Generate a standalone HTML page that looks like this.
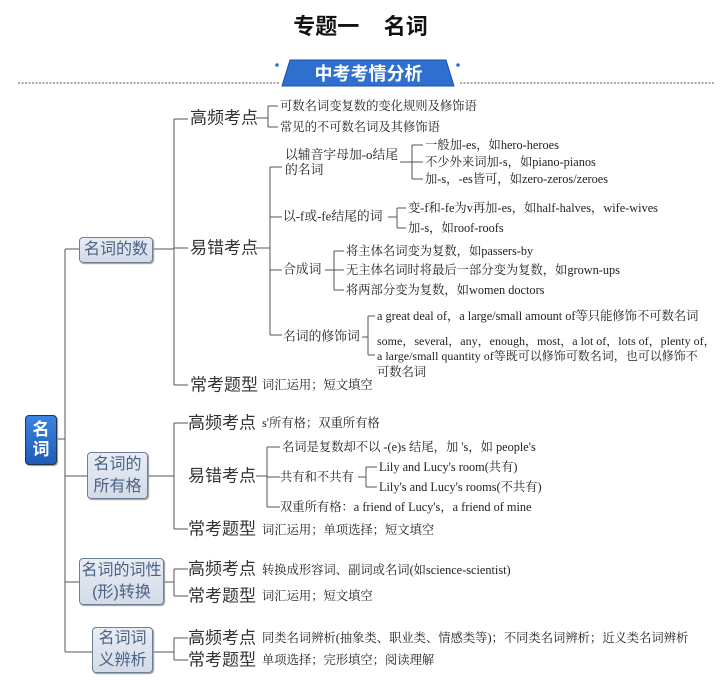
<!DOCTYPE html>
<html><head><meta charset="utf-8"><style>
body{margin:0;width:721px;height:681px;background:#fff;position:relative;overflow:hidden;font-family:"Liberation Serif","Noto Serif CJK SC",serif;color:#222}
.t{position:absolute;white-space:nowrap;transform:translateY(-50%);line-height:1}
.h{font-family:"Liberation Sans","Noto Sans CJK SC",sans-serif;font-size:17px;color:#333}
.s{font-size:12.3px}
.m{font-size:12.8px}
.box{position:absolute;background:linear-gradient(#e8edf4,#d3dbe7);border:1px solid #6f7f96;border-radius:4px;box-shadow:1px 1px 1px #999;font-family:"Liberation Sans","Noto Sans CJK SC",sans-serif;color:#4a6285;font-size:16px;display:flex;align-items:center;justify-content:center;text-align:center;line-height:1.35;box-sizing:border-box}
</style></head><body>
<div class="t" style="left:0;width:721px;text-align:center;top:27px;font-family:'Liberation Sans','Noto Sans CJK SC',sans-serif;font-weight:bold;font-size:22px;color:#111">专题一&nbsp;&nbsp;&nbsp;&nbsp;名词</div>
<svg width="721" height="681" style="position:absolute;left:0;top:0">
<line x1="18" y1="83" x2="280" y2="83" stroke="#555" stroke-dasharray="2,1.5"/>
<line x1="460" y1="83" x2="715" y2="83" stroke="#555" stroke-dasharray="2,1.5"/>
<polygon points="290,60 446,60 454,86 282,86" fill="#2e6fd0" stroke="#1d4fa0"/>
<circle cx="277" cy="65" r="1.8" fill="#2e6fd0"/><circle cx="458" cy="65" r="1.8" fill="#2e6fd0"/>
<g stroke="#555" fill="none" stroke-width="1">
<path d="M65 249V652M57 439H65M65 249H79M65 476H87M65 582H79M65 652H92"/>
<path d="M153 249H174M174 119V385M174 119H188M174 248H188M174 385H188"/>
<path d="M256 118H268M268 106V127M268 106H278M268 127H278"/>
<path d="M256 248H270M270 167V335M270 167H282M270 217H282M270 270H282M270 335H282"/>
<path d="M400 162H412M412 145V179M412 145H423M412 162H423M412 179H423"/>
<path d="M388 217H397M397 208V228M397 208H406M397 228H406"/>
<path d="M325 270H334M334 251V290M334 251H344M334 270H344M334 290H344"/>
<path d="M362 337H368M368 316V355M368 316H375M368 355H375"/>
<path d="M148 476H174M174 423V529M174 423H188M174 529H188M256 476H267M267 447V507M267 447H280M267 477H280M267 507H280"/>
<path d="M358 477H366M366 467V487M366 467H377M366 487H377"/>
<path d="M164 582H174M174 569V596M174 569H188M174 596H188"/>
<path d="M153 652H174M174 638V660M174 638H188M174 660H188"/>
</g></svg>
<div class="t" style="left:283px;width:171px;text-align:center;top:74px;font-family:'Liberation Sans','Noto Sans CJK SC',sans-serif;font-weight:bold;font-size:18px;color:#fff">中考考情分析</div>
<div class="box" style="left:25px;top:415px;width:32px;height:50px;background:linear-gradient(#3a83e0,#1f5cb8);color:#fff;font-weight:bold;font-size:17px;line-height:1.2;border-color:#234">名<br>词</div>
<div class="box" style="left:79px;top:237px;width:74px;height:26px">名词的数</div>
<div class="box" style="left:87px;top:452px;width:61px;height:47px">名词的<br>所有格</div>
<div class="box" style="left:79px;top:558px;width:85px;height:47px">名词的词性<br>(形)转换</div>
<div class="box" style="left:92px;top:627px;width:61px;height:46px">名词词<br>义辨析</div>

<div class="t h" style="left:190px;top:118px">高频考点</div>
<div class="t s" style="left:280px;top:106px">可数名词变复数的变化规则及修饰语</div>
<div class="t s" style="left:280px;top:127px">常见的不可数名词及其修饰语</div>
<div class="t h" style="left:190px;top:248px">易错考点</div>
<div class="t m" style="left:285px;top:163px;line-height:15px">以辅音字母加-o结尾<br>的名词</div>
<div class="t s" style="left:425px;top:145px">一般加-es，如hero-heroes</div>
<div class="t s" style="left:425px;top:162px">不少外来词加-s，如piano-pianos</div>
<div class="t s" style="left:425px;top:179px">加-s，-es皆可，如zero-zeros/zeroes</div>
<div class="t m" style="left:283px;top:217px">以-f或-fe结尾的词</div>
<div class="t s" style="left:408px;top:208px">变-f和-fe为v再加-es，如half-halves，wife-wives</div>
<div class="t s" style="left:408px;top:228px">加-s，如roof-roofs</div>
<div class="t m" style="left:283px;top:270px">合成词</div>
<div class="t s" style="left:346px;top:251px">将主体名词变为复数，如passers-by</div>
<div class="t s" style="left:346px;top:270px">无主体名词时将最后一部分变为复数，如grown-ups</div>
<div class="t s" style="left:346px;top:290px">将两部分变为复数，如women doctors</div>
<div class="t m" style="left:283px;top:337px">名词的修饰词</div>
<div class="t s" style="left:377px;top:316px">a great deal of，a large/small amount of等只能修饰不可数名词</div>
<div class="t s" style="left:377px;top:341px;font-size:12px">some，several，any，enough，most，a lot of，lots of，plenty of，</div>
<div class="t s" style="left:377px;top:356px;font-size:12px">a large/small quantity of等既可以修饰可数名词，也可以修饰不</div>
<div class="t s" style="left:377px;top:372px">可数名词</div>
<div class="t h" style="left:190px;top:385px">常考题型</div>
<div class="t s" style="left:262px;top:385px">词汇运用；短文填空</div>

<div class="t h" style="left:188px;top:423px">高频考点</div>
<div class="t s" style="left:262px;top:423px">s'所有格；双重所有格</div>
<div class="t h" style="left:188px;top:476px">易错考点</div>
<div class="t s" style="left:282px;top:447px">名词是复数却不以 -(e)s 结尾，加 's，如 people's</div>
<div class="t s" style="left:280px;top:477px">共有和不共有</div>
<div class="t s" style="left:379px;top:467px">Lily and Lucy's room(共有)</div>
<div class="t s" style="left:379px;top:487px">Lily's and Lucy's rooms(不共有)</div>
<div class="t s" style="left:280px;top:507px">双重所有格：a friend of Lucy's，a friend of mine</div>
<div class="t h" style="left:188px;top:529px">常考题型</div>
<div class="t s" style="left:262px;top:530px">词汇运用；单项选择；短文填空</div>

<div class="t h" style="left:188px;top:569px">高频考点</div>
<div class="t s" style="left:262px;top:570px">转换成形容词、副词或名词(如science-scientist)</div>
<div class="t h" style="left:188px;top:596px">常考题型</div>
<div class="t s" style="left:262px;top:596px">词汇运用；短文填空</div>

<div class="t h" style="left:188px;top:638px">高频考点</div>
<div class="t s" style="left:262px;top:638px">同类名词辨析(抽象类、职业类、情感类等)；不同类名词辨析；近义类名词辨析</div>
<div class="t h" style="left:188px;top:660px">常考题型</div>
<div class="t s" style="left:262px;top:660px">单项选择；完形填空；阅读理解</div>
</body></html>
